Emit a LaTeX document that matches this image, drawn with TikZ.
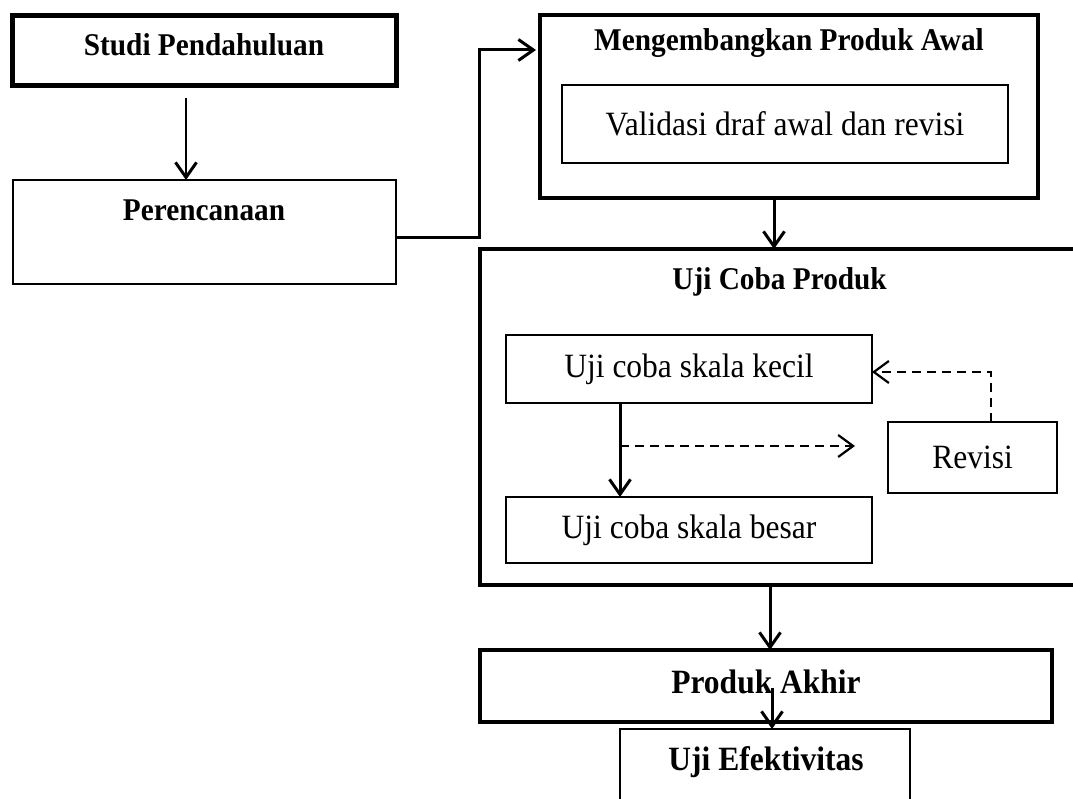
\documentclass[tikz,border=0pt]{standalone}
\usepackage{fontspec}
\usepackage{graphicx}
\setmainfont{Liberation Serif}
\usetikzlibrary{arrows.meta,calc}
\newcommand{\vstretch}[1]{\scalebox{1}[1.08]{#1}}
\begin{document}
\begin{tikzpicture}[x=1pt,y=-1pt,
  box/.style={draw=black,rectangle,inner sep=0pt,outer sep=0pt},
  ttl/.style={font=\fontsize{29.3}{34}\selectfont\bfseries,inner sep=0pt},
  ttlbig/.style={font=\fontsize{31.5}{36}\selectfont\bfseries,inner sep=0pt},
  txt/.style={font=\fontsize{31.5}{36}\selectfont},
  arr/.style={line width=3pt,-{Straight Barb[length=15pt,width=21pt,line width=3pt]}},
  darr/.style={line width=2pt,dash pattern=on 9pt off 6pt,-{Straight Barb[length=15pt,width=22pt,line width=2.2pt,sep=0pt]}}
]
\useasboundingbox (0,0) rectangle (1073,799);
\clip (0,0) rectangle (1073,799);
\fill[white] (0,0) rectangle (1073,799);

% left column
\node[box,line width=5pt,minimum width=384pt,minimum height=70pt] (studi) at (204,50.8) {};
\node[ttl] (studiT) at (204,45) {\vstretch{Studi Pendahuluan}};
\node[box,line width=2pt,minimum width=383pt,minimum height=104pt] (per) at (204,232) {};
\node[ttl] (perT) at (204,210) {\vstretch{Perencanaan}};

% Mengembangkan Produk Awal
\node[box,line width=3.5pt,minimum width=498pt,minimum height=183pt] (meng) at (789,106.5) {};
\node[ttl] (mengT) at (789,43.3) {\vstretch{Mengembangkan Produk Awal}};
\node[box,line width=2pt,minimum width=446pt,minimum height=78pt,txt] (val) at (785,124) {\vstretch{Validasi draf awal dan revisi}};

% Uji Coba Produk
\node[box,line width=4pt,minimum width=610pt,minimum height=336pt] (uji) at (785,417) {};
\node[ttl] (ujiT) at (779.6,282) {\vstretch{Uji Coba Produk}};
\node[box,line width=2pt,minimum width=366pt,minimum height=68pt,txt] (kecil) at (689,369) {\vstretch{Uji coba skala kecil}};
\node[box,line width=2pt,minimum width=366pt,minimum height=66pt,txt] (besar) at (689,530) {\vstretch{Uji coba skala besar}};
\node[box,line width=2pt,minimum width=169pt,minimum height=71pt,txt] (rev) at (972.5,457.5) {\vstretch{Revisi}};
\coordinate (dend) at (855,446);

% Produk Akhir and Uji Efektivitas
\node[box,line width=4pt,minimum width=572pt,minimum height=72pt] (pa) at (765.5,686) {};
\node[ttlbig] (paT) at (766,682) {\vstretch{Produk Akhir}};
\node[box,line width=2pt,minimum width=290pt,minimum height=101pt] (ue) at (764.5,779.5) {};
\node[ttlbig] (ueT) at (766,762) {\vstretch{Uji Efektivitas}};

% connectors
\draw[arr,line width=2.6pt] ([xshift=-18pt,yshift=-12pt]studi.south) -- ([xshift=-18pt]per.north);
\draw[arr,shorten >=4pt] ([yshift=-6pt]per.east) -- ++(84,0) |- ([yshift=56.5pt]meng.west);
\draw[arr] ([xshift=-15pt]meng.south) -- ([xshift=-15pt]meng.south |- uji.north);
\draw[arr] ([xshift=-69pt]kecil.south) -- ([xshift=-69pt]besar.north);
\draw[darr] ([xshift=-69pt,yshift=-43pt]kecil.south) -- (dend);
\draw[darr] ([xshift=18.5pt]rev.north) |- ([yshift=-3pt]kecil.east);
\draw[arr] ([xshift=-15pt]uji.south) -- ([xshift=-15pt]uji.south |- pa.north);
\draw[arr] ([xshift=6.5pt,yshift=-2pt]pa.center) -- ([xshift=6.5pt]pa.center |- ue.north);
\end{tikzpicture}
\end{document}
